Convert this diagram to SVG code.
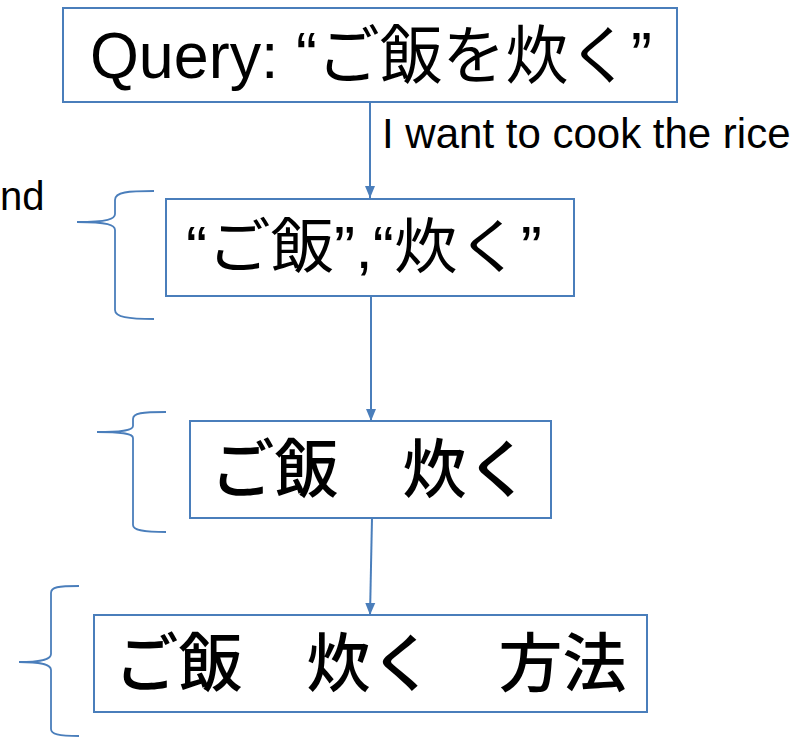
<svg xmlns="http://www.w3.org/2000/svg" width="804" height="738" viewBox="0 0 804 738">
<style>
.box{fill:#fff;stroke:#4a7ebb;stroke-width:2}
.con{fill:none;stroke:#4a7ebb;stroke-width:2}
.brace{fill:none;stroke:#4a7ebb;stroke-width:1.8}
.t{font-family:"Liberation Sans","Noto Sans CJK JP",sans-serif;fill:#000}
.jp{font-family:"Noto Sans CJK JP",sans-serif;fill:#000;font-weight:500}
</style>
<defs>
<marker id="ah" markerWidth="12" markerHeight="12" viewBox="0 0 12 12" refX="12" refY="6" orient="auto" markerUnits="userSpaceOnUse">
<path d="M0,1 L12,6 L0,11 z" fill="#4a7ebb"/>
</marker>
</defs>
<rect width="804" height="738" fill="#fff"/>
<g id="connectors">
<line class="con" x1="370" y1="102" x2="370" y2="198" marker-end="url(#ah)"/>
<line class="con" x1="371" y1="296" x2="371" y2="421" marker-end="url(#ah)"/>
<line class="con" x1="372" y1="518" x2="370" y2="615" marker-end="url(#ah)"/>
</g>
<text class="t" x="382" y="148" font-size="42">I want to cook the rice</text>
<text class="t" x="0" y="210" font-size="40">nd</text>
<g id="braces">
<path class="brace" d="M154,191 C128,191 115,192 115,200 L115,214 C115,219 108,222 77,222 C108,222 115,225 115,230 L115,310 C115,317 128,319 154,319"/>
<path class="brace" d="M166,412 C142,412 133,413 133,419 L133,426 C133,430 124,432 97,432 C124,432 133,434 133,438 L133,525 C133,530 142,532 166,532"/>
<path class="brace" d="M79,586 C58,586 51,587 51,593 L51,654 C51,659 44,662 19,662 C44,662 51,665 51,670 L51,729 C51,734 58,736 79,736"/>
</g>
<g id="n1">
<rect class="box" x="63" y="8" width="614" height="94"/>
<text class="t" x="90" y="78" font-size="64" textLength="562" lengthAdjust="spacingAndGlyphs">Query: “ご飯を炊く”</text>
</g>
<g id="n2">
<rect class="box" x="166" y="199" width="408" height="97"/>
<text class="t" x="186" y="268" font-size="60" textLength="356" lengthAdjust="spacingAndGlyphs">“ご飯”,“炊く”</text>
</g>
<g id="n3">
<rect class="box" x="190" y="421" width="361" height="97"/>
<text class="jp" x="370.5" y="492" font-size="64" text-anchor="middle">ご飯　炊く</text>
</g>
<g id="n4">
<rect class="box" x="94" y="615" width="553" height="97"/>
<text class="jp" x="370.5" y="686" font-size="64" text-anchor="middle">ご飯　炊く　方法</text>
</g>
</svg>
